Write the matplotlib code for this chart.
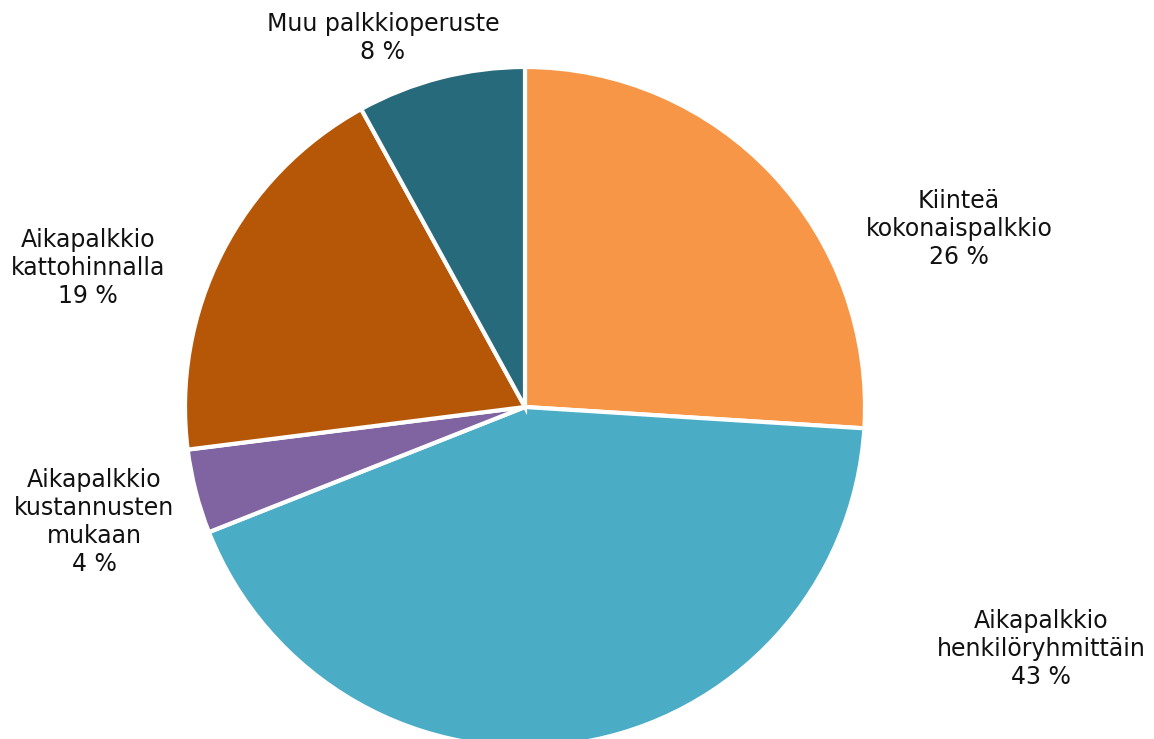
import matplotlib
matplotlib.use("Agg")
import matplotlib.pyplot as plt

# shares of each fee basis, clockwise from 12 o'clock
categories = ["Kiinteä\nkokonaispalkkio", "Aikapalkkio\nhenkilöryhmittäin",
              "Aikapalkkio\nkustannusten\nmukaan", "Aikapalkkio\nkattohinnalla",
              "Muu palkkioperuste"]
shares = [26, 43, 4, 19, 8]
colors = ["#F79646", "#4BACC6", "#8064A2", "#B65708", "#266A7C"]

# label centres in pixels (x, y from top)
label_px = [(959, 229), (1041, 649), (94, 522), (88, 268), (383, 38)]

W, H = 1154, 739
cx, cy, R = 525, 407, 340

fig = plt.figure(figsize=(W / 100, H / 100), dpi=100)
ax = fig.add_axes([0, 0, 1, 1])
ax.pie(shares, colors=colors, startangle=90, counterclock=False, radius=1,
       wedgeprops=dict(edgecolor="white", linewidth=3))
ax.set_xlim(-cx / R, (W - cx) / R)
ax.set_ylim(-(H - cy) / R, cy / R)
ax.set_aspect("auto")
ax.axis("off")

for name, val, (px, py) in zip(categories, shares, label_px):
    ax.text((px - cx) / R, (cy - py) / R, "%s\n%d %%" % (name, val),
            ha="center", va="center", fontsize=17, color="#111111",
            linespacing=1.22)

fig.savefig("out.png", dpi=100)
